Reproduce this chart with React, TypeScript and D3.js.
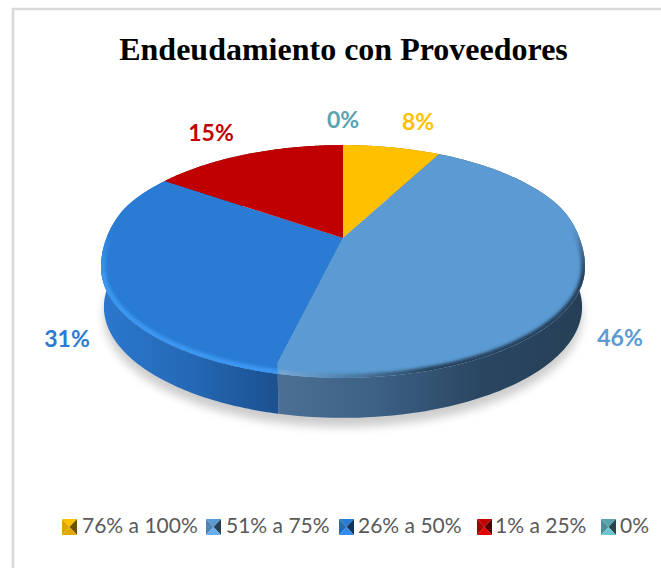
import React from "react";
import * as d3 from "d3";

const categories = ["76% a 100%", "51% a 75%", "26% a 50%", "1% a 25%", "0%"];
const sliceShares = [7.6, 46.1, 31.1, 15.2, 0];
const colors = ["#ffc000", "#5b9ad2", "#2a7bd3", "#c00000", "#5ba3b0"];
const sideStops: string[][] = [
  ["#a88000", "#a88000"],
  ["#4b7094", "#3b6084", "#2a4661", "#263f57"],
  ["#2b78cf", "#2569b6", "#1b5190"],
  ["#800000", "#800000"],
  ["#3a7e8c", "#3a7e8c"],
];
const labelTexts = ["8%", "46%", "31%", "15%", "0%"];
const labelX = [418, 620, 67, 211, 343];
const labelY = [130, 346, 347, 141, 128];
const legendSwatchX = [62, 206, 339, 477, 601];
const legendTextX = [82, 226, 358, 495, 620];
const swatchBottomShift = [-0.35, 0.35, 0.35, 0.5, 0.5];

const APEX_X = 343;
const APEX_Y = 238;
const RX = 238.8;
const RY = 108;
const PERSPECTIVE = 0.162;
const DEPTH = 51;
const BEVEL = 11;
const BOTTOM_SX = 0.988;
const DEG = Math.PI / 180;

const project = (a: number, sx = 1, dy = 0): [number, number] => {
  const u = Math.sin(a);
  const v = Math.cos(a);
  const w = 1 + PERSPECTIVE * v;
  return [APEX_X + (sx * RX * u) / w, APEX_Y - (RY * v) / w + dy];
};

// outer edge of the bevel: pushed down along the front of the disc only
const outer = (a: number): [number, number] => {
  const t = Math.max(0, Math.min(1, (0.35 - Math.cos(a)) / 0.6));
  return project(a, 1, BEVEL * t * t * (3 - 2 * t));
};

const arcs = d3
  .pie<number>()
  .sort(null)
  .value((d) => d)(sliceShares);

const sampled = (a0: number, a1: number) =>
  d3.range(0, 121).map((i) => a0 + ((a1 - a0) * i) / 120);

const line = d3.line();
const TAU = Math.PI * 2;
const topOutline = line(sampled(0, TAU).map((a) => outer(a)))! + "Z";
const bottomOutline =
  line(sampled(0, TAU).map((a) => project(a, BOTTOM_SX, DEPTH)))! + "Z";

const slicePath = (a0: number, a1: number) =>
  line([
    [APEX_X, APEX_Y],
    project(a0),
    ...sampled(a0, a1).map((a) => outer(a)),
    project(a1),
  ])! + "Z";
const rimPath = (a0: number, a1: number) =>
  line(sampled(a0, a1).map((a) => outer(a)))!;
const sidePath = (a0: number, a1: number) =>
  line([
    ...sampled(a0, a1).map((a) => outer(a)),
    ...sampled(a1, a0).map((a) => project(a, BOTTOM_SX, DEPTH)),
  ])! + "Z";

const sideRange = [
  [340, 340],
  [277, 585],
  [101, 277],
  [100, 200],
  [100, 200],
];

const swatchFacets = (x: number, base: string, shift: number) => {
  const y = 519;
  const w = 15;
  const h = 16;
  const c = d3.color(base)!;
  const mx = x + w * 0.5;
  const my = y + h * 0.5;
  const p = (pts: number[][]) => line(pts as [number, number][])! + "Z";
  return [
    { d: p([[x, y], [x + w, y], [mx, my]]), fill: c.formatHex() },
    { d: p([[x, y], [x, y + h], [mx, my]]), fill: c.darker(0.4).formatHex() },
    { d: p([[x + w, y], [x + w, y + h], [mx, my]]), fill: c.darker(2.4).formatHex() },
    {
      d: p([[x, y + h], [x + w, y + h], [mx, my]]),
      fill: (shift < 0 ? c.darker(-shift) : c.brighter(shift)).formatHex(),
    },
  ];
};

export default function App() {
  return (
    <svg
      width={661}
      height={568}
      style={{ position: "absolute", left: 0, top: 0, background: "#fff" }}
    >
      <defs>
        <filter id="shadow" x="-20%" y="-20%" width="140%" height="140%">
          <feGaussianBlur stdDeviation="5" />
        </filter>
        <filter id="rim" x="-20%" y="-20%" width="140%" height="140%">
          <feGaussianBlur stdDeviation="1.6" />
        </filter>
        <clipPath id="topClip">
          <path d={topOutline} />
        </clipPath>
        <linearGradient id="rimFade" gradientUnits="userSpaceOnUse" x1={0} x2={0} y1={228} y2={275}>
          <stop offset={0} stopColor="#000" />
          <stop offset={1} stopColor="#fff" />
        </linearGradient>
        <mask id="rimMask" maskUnits="userSpaceOnUse" x={0} y={0} width={661} height={568}>
          <rect x={0} y={0} width={661} height={568} fill="url(#rimFade)" />
        </mask>
        {sideStops.map((stops, i) => (
          <linearGradient
            key={i}
            id={`side${i}`}
            gradientUnits="userSpaceOnUse"
            x1={sideRange[i][0]}
            x2={sideRange[i][1]}
            y1={0}
            y2={0}
          >
            {stops.map((s, j) => (
              <stop key={j} offset={j / (stops.length - 1)} stopColor={s} />
            ))}
          </linearGradient>
        ))}
        <linearGradient id="rimFront" gradientUnits="userSpaceOnUse" x1={277} x2={430} y1={0} y2={0}>
          <stop offset={0} stopColor="#7cabd6" />
          <stop offset={0.3} stopColor="#5b8fbf" />
          <stop offset={1} stopColor="#26415a" />
        </linearGradient>
      </defs>

      <path d="M13 568V9H661" fill="none" stroke="#d9d9d9" strokeWidth={2.5} />

      <text
        x={343.5}
        y={60}
        textAnchor="middle"
        fontFamily="'Liberation Serif'"
        fontWeight={700}
        fontSize={32}
        fill="#000"
      >
        Endeudamiento con Proveedores
      </text>

      <path
        d={bottomOutline}
        transform="translate(0,9)"
        fill="#000"
        opacity={0.2}
        filter="url(#shadow)"
      />

      {arcs.map((a, i) =>
        a.endAngle > a.startAngle ? (
          <path key={i} d={sidePath(a.startAngle, a.endAngle)} fill={`url(#side${i})`} />
        ) : null
      )}

      {arcs.map((a, i) =>
        a.endAngle > a.startAngle ? (
          <path key={i} d={slicePath(a.startAngle, a.endAngle)} fill={colors[i]} />
        ) : null
      )}

      <g clipPath="url(#topClip)">
        <g mask="url(#rimMask)">
          <path
            d={rimPath(80 * DEG, arcs[1].endAngle)}
            fill="none"
            stroke="url(#rimFront)"
            strokeWidth={8}
            filter="url(#rim)"
          />
          <path
            d={rimPath(arcs[2].startAngle, 300 * DEG)}
            fill="none"
            stroke="#3a97f2"
            strokeWidth={9}
            filter="url(#rim)"
          />
        </g>
      </g>

      {labelTexts.map((t, i) => (
        <text
          key={i}
          x={labelX[i]}
          y={labelY[i]}
          textAnchor="middle"
          fontFamily="Lato"
          fontWeight={700}
          fontSize={23}
          fill={colors[i]}
        >
          {t}
        </text>
      ))}

      {categories.map((c, i) => (
        <g key={i}>
          {swatchFacets(legendSwatchX[i], colors[i], swatchBottomShift[i]).map((f, j) => (
            <path key={j} d={f.d} fill={f.fill} />
          ))}
          <text x={legendTextX[i]} y={533} fontFamily="Lato" fontSize={21} fill="#595959">
            {c}
          </text>
        </g>
      ))}
    </svg>
  );
}
